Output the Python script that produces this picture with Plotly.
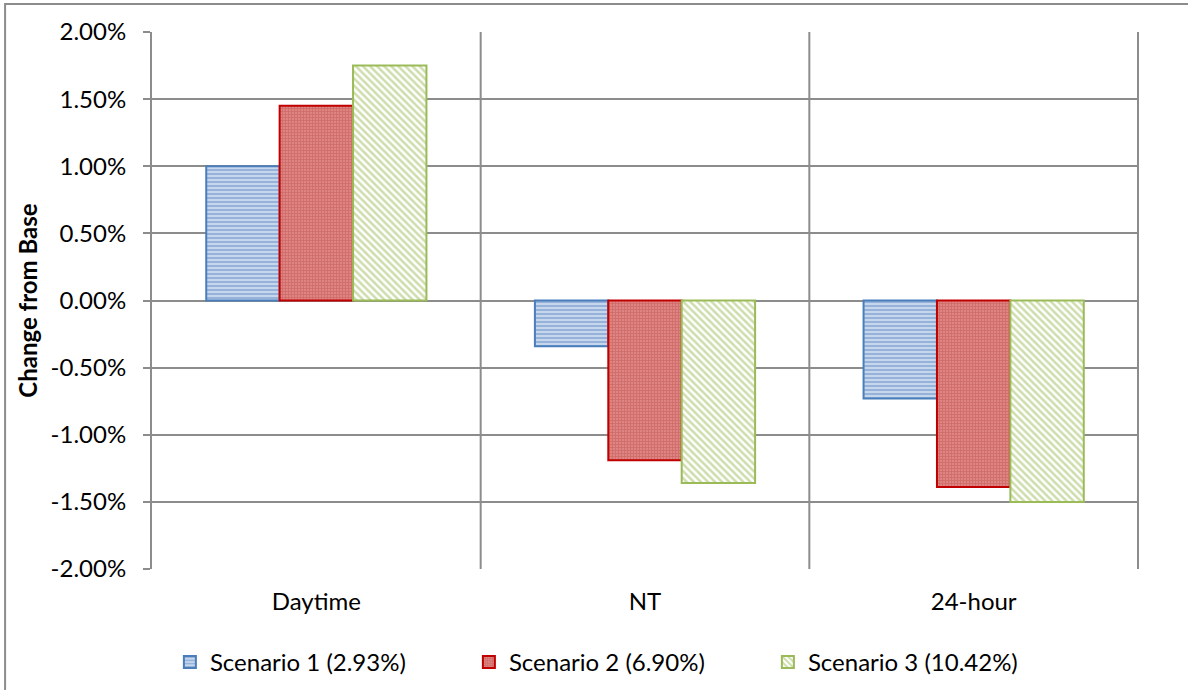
import plotly.graph_objects as go

categories = ["Daytime", "NT", "24-hour"]
series_names = ["Scenario 1 (2.93%)", "Scenario 2 (6.90%)", "Scenario 3 (10.42%)"]
scenario1 = [0.0100, -0.0034, -0.0073]
scenario2 = [0.0145, -0.0119, -0.0139]
scenario3 = [0.0175, -0.0136, -0.0150]
y_ticks = [-0.02, -0.015, -0.01, -0.005, 0.0, 0.005, 0.01, 0.015, 0.02]
y_tick_text = ["-2.00%", "-1.50%", "-1.00%", "-0.50%", "0.00%", "0.50%", "1.00%", "1.50%", "2.00%"]

FONT = "Lato, 'Open Sans', sans-serif"
GRID = "#8C8C8C"
FS = 24

styles = [
    dict(line="#4A7EBB", fg="#5B88C0", bg="#C6D6EC", shape="-", size=4, solidity=0.45),
    dict(line="#C00000", fg="#C0504D", bg="#DE8583", shape="+", size=3, solidity=0.45),
    dict(line="#9BBB59", fg="#9BBB59", bg="#FFFFFF", shape="\\", size=5, solidity=0.5),
]

fig = go.Figure()
for name, vals, st in zip(series_names, [scenario1, scenario2, scenario3], styles):
    fig.add_trace(go.Bar(
        x=categories, y=vals, name=name,
        marker=dict(
            color=st["bg"],
            line=dict(color=st["line"], width=2),
            pattern=dict(shape=st["shape"], fgcolor=st["fg"], bgcolor=st["bg"],
                         size=st["size"], solidity=st["solidity"], fillmode="overlay"),
        ),
    ))

# vertical category gridlines
for xv in [0.5, 1.5]:
    fig.add_shape(type="line", xref="x", yref="paper", x0=xv, x1=xv, y0=0, y1=1,
                  line=dict(color=GRID, width=2), layer="below")
fig.add_shape(type="line", xref="paper", yref="paper", x0=1, x1=1, y0=0, y1=1,
              line=dict(color=GRID, width=2), layer="below")
# outer chart border
fig.add_shape(type="rect", xref="paper", yref="paper",
              x0=-0.149, x1=1.06, y0=-0.235, y1=1.052,
              line=dict(color="#8C8C8C", width=2), layer="below")

fig.update_layout(
    width=1188, height=690,
    margin=dict(l=152, r=50, t=32, b=121),
    paper_bgcolor="white", plot_bgcolor="white",
    barmode="group", bargap=0.33, bargroupgap=0,
    font=dict(family=FONT, size=FS, color="black"),
    showlegend=True,
    legend=dict(orientation="h", xref="container", x=0.143, xanchor="left",
                yref="container", y=0.04, yanchor="middle",
                font=dict(size=FS), entrywidth=254, entrywidthmode="pixels",
                traceorder="normal", itemwidth=30),
    xaxis=dict(type="category", showgrid=False, showline=False, ticks="",
               tickfont=dict(size=FS), range=[-0.5, 2.5], ticklabelstandoff=16),
    yaxis=dict(range=[-0.02, 0.02], tickvals=y_ticks, ticktext=y_tick_text,
               showgrid=True, gridcolor=GRID, gridwidth=2,
               showline=True, linecolor=GRID, linewidth=2,
               ticks="outside", ticklen=7, tickcolor=GRID, tickwidth=2,
               zeroline=False, ticklabelstandoff=12,
               title=dict(text="<b>Change from Base</b>", font=dict(size=FS), standoff=6),
               tickfont=dict(size=FS)),
)

fig.write_html("out.html", config={"displayModeBar": False},
               post_script="document.body.style.margin='0px';")
